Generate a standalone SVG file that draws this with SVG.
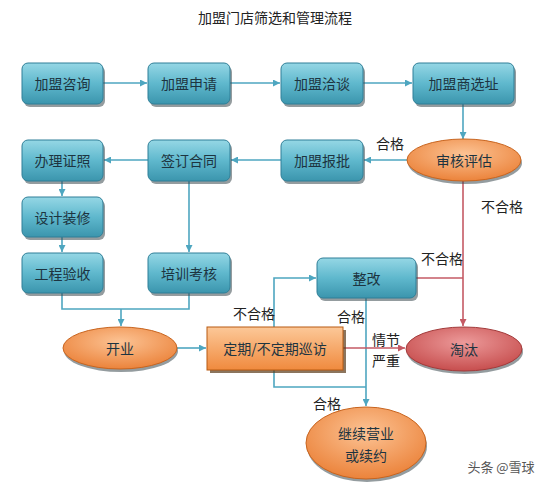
<svg xmlns="http://www.w3.org/2000/svg" width="550" height="486" viewBox="0 0 550 486">
<style>
text{font-family:"Noto Sans CJK SC","Liberation Sans",sans-serif;dominant-baseline:central;text-anchor:middle}
.t{font-size:14px;fill:#1d3440}
.l{font-size:14px;fill:#222}
.title{font-size:14px;fill:#222;font-family:"Noto Sans CJK SC",serif}
.box{fill:url(#gb);stroke:#2f7f98;stroke-width:1}
.sh{fill:#3d4a50;opacity:0.55}
.or{fill:url(#go);stroke:#c8641e;stroke-width:1}
.rd{fill:url(#gr);stroke:#a23a3a;stroke-width:1}
.rect{fill:url(#gq);stroke:#b85a12;stroke-width:1}
.cb{fill:none;stroke:#4ea6c0;stroke-width:1.6}
.cr{fill:none;stroke:#c55a64;stroke-width:1.6}
</style>
<defs>
<linearGradient id="gb" x1="0" y1="0" x2="0" y2="1"><stop offset="0" stop-color="#95d7e5"/><stop offset="0.5" stop-color="#5fb8cd"/><stop offset="1" stop-color="#3b95ad"/></linearGradient>
<radialGradient id="go" cx="0.5" cy="0.35" r="0.7"><stop offset="0" stop-color="#fcc394"/><stop offset="1" stop-color="#ea7e34"/></radialGradient>
<radialGradient id="gr" cx="0.5" cy="0.35" r="0.7"><stop offset="0" stop-color="#ec9a9a"/><stop offset="1" stop-color="#c44848"/></radialGradient>
<linearGradient id="gq" x1="0" y1="0" x2="0" y2="1"><stop offset="0" stop-color="#fcc898"/><stop offset="1" stop-color="#f08a3e"/></linearGradient>
<marker id="ab" viewBox="0 0 10 10" refX="10" refY="5" markerWidth="7" markerHeight="7" orient="auto" markerUnits="userSpaceOnUse"><path d="M0,0L10,5L0,10z" fill="#4ea6c0"/></marker>
<marker id="ar" viewBox="0 0 10 10" refX="10" refY="5" markerWidth="7" markerHeight="7" orient="auto" markerUnits="userSpaceOnUse"><path d="M0,0L10,5L0,10z" fill="#c55a64"/></marker>
</defs>
<rect width="550" height="486" fill="#ffffff"/>
<text class="title" x="275" y="17">加盟门店筛选和管理流程</text>

<g id="connectors">
<line class="cb" x1="103" y1="83" x2="147" y2="83" marker-end="url(#ab)"/>
<line class="cb" x1="230" y1="83" x2="280" y2="83" marker-end="url(#ab)"/>
<line class="cb" x1="363" y1="83" x2="412" y2="83" marker-end="url(#ab)"/>
<line class="cb" x1="463" y1="104" x2="463" y2="139" marker-end="url(#ab)"/>
<line class="cb" x1="407" y1="160" x2="364" y2="160" marker-end="url(#ab)"/>
<line class="cb" x1="281" y1="160" x2="231" y2="160" marker-end="url(#ab)"/>
<line class="cb" x1="148" y1="160" x2="104" y2="160" marker-end="url(#ab)"/>
<line class="cb" x1="62" y1="181" x2="62" y2="196" marker-end="url(#ab)"/>
<line class="cb" x1="62" y1="237" x2="62" y2="252" marker-end="url(#ab)"/>
<line class="cb" x1="189" y1="181" x2="189" y2="252" marker-end="url(#ab)"/>
<polyline class="cb" points="62,293 62,309 189,309 189,293"/>
<line class="cb" x1="121" y1="309" x2="121" y2="326" marker-end="url(#ab)"/>
<line class="cb" x1="177" y1="348" x2="206" y2="348" marker-end="url(#ab)"/>
<polyline class="cb" points="274,327 274,278 316,278" marker-end="url(#ab)"/>
<line class="cb" x1="366" y1="298" x2="366" y2="406" marker-end="url(#ab)"/>
<polyline class="cb" points="274,370 274,387 366,387"/>
<line class="cr" x1="463" y1="181" x2="463" y2="326" marker-end="url(#ar)"/>
<line class="cr" x1="416" y1="278" x2="463" y2="278"/>
<line class="cr" x1="343" y1="348" x2="405" y2="348" marker-end="url(#ar)"/>
<text class="l" x="390" y="143">合格</text>
<text class="l" x="502" y="206">不合格</text>
<text class="l" x="442" y="258">不合格</text>
<text class="l" x="254" y="313">不合格</text>
<text class="l" x="351" y="316">合格</text>
<text class="l" x="386" y="339">情节</text>
<text class="l" x="386" y="360">严重</text>
<text class="l" x="327" y="403">合格</text>
</g>

<g id="n1"><rect class="sh" x="24" y="66" width="81" height="41" rx="6"/><rect class="box" x="22" y="63" width="81" height="41" rx="6"/><text class="t" x="62.5" y="83">加盟咨询</text></g>
<g id="n2"><rect class="sh" x="150" y="66" width="82" height="41" rx="6"/><rect class="box" x="148" y="63" width="82" height="41" rx="6"/><text class="t" x="189" y="83">加盟申请</text></g>
<g id="n3"><rect class="sh" x="283" y="66" width="82" height="41" rx="6"/><rect class="box" x="281" y="63" width="82" height="41" rx="6"/><text class="t" x="322" y="83">加盟洽谈</text></g>
<g id="n4"><rect class="sh" x="415" y="66" width="101" height="41" rx="6"/><rect class="box" x="413" y="63" width="101" height="41" rx="6"/><text class="t" x="463.5" y="83">加盟商选址</text></g>
<g id="n5"><ellipse class="sh" cx="465" cy="163" rx="57" ry="21"/><ellipse class="or" cx="464" cy="160" rx="57" ry="21"/><text class="t" x="464" y="160">审核评估</text></g>
<g id="n6"><rect class="sh" x="283" y="143" width="82" height="41" rx="6"/><rect class="box" x="281" y="140" width="82" height="41" rx="6"/><text class="t" x="322" y="160">加盟报批</text></g>
<g id="n7"><rect class="sh" x="150" y="143" width="82" height="41" rx="6"/><rect class="box" x="148" y="140" width="82" height="41" rx="6"/><text class="t" x="189" y="160">签订合同</text></g>
<g id="n8"><rect class="sh" x="24" y="143" width="81" height="41" rx="6"/><rect class="box" x="22" y="140" width="81" height="41" rx="6"/><text class="t" x="62.5" y="160">办理证照</text></g>
<g id="n9"><rect class="sh" x="24" y="200" width="81" height="40" rx="6"/><rect class="box" x="22" y="197" width="81" height="40" rx="6"/><text class="t" x="62.5" y="217">设计装修</text></g>
<g id="n10"><rect class="sh" x="24" y="256" width="81" height="40" rx="6"/><rect class="box" x="22" y="253" width="81" height="40" rx="6"/><text class="t" x="62.5" y="273">工程验收</text></g>
<g id="n11"><rect class="sh" x="150" y="256" width="82" height="40" rx="6"/><rect class="box" x="148" y="253" width="82" height="40" rx="6"/><text class="t" x="189" y="273">培训考核</text></g>
<g id="n12"><ellipse class="sh" cx="121" cy="351" rx="57" ry="21"/><ellipse class="or" cx="120" cy="348" rx="57" ry="21"/><text class="t" x="120" y="348">开业</text></g>
<g id="n13"><rect x="210" y="330" width="136" height="43" fill="#5a3a1a" opacity="0.7"/><rect class="rect" x="207" y="327" width="136" height="43"/><text class="t" x="275" y="348">定期/不定期巡访</text></g>
<g id="n14"><rect class="sh" x="319" y="261" width="99" height="40" rx="6"/><rect class="box" x="317" y="258" width="99" height="40" rx="6"/><text class="t" x="366.5" y="278">整改</text></g>
<g id="n15"><ellipse class="sh" cx="465" cy="352" rx="58" ry="22"/><ellipse class="rd" cx="464" cy="349" rx="58" ry="22"/><text class="t" x="464" y="349">淘汰</text></g>
<g id="n16"><ellipse class="sh" cx="367" cy="446" rx="60" ry="36"/><ellipse class="or" cx="366" cy="443" rx="60" ry="36"/><text class="t" x="366" y="433">继续营业</text><text class="t" x="366" y="455">或续约</text></g>
<text x="501" y="466" style="font-size:13px;fill:#555">头条 @雪球</text>
</svg>
